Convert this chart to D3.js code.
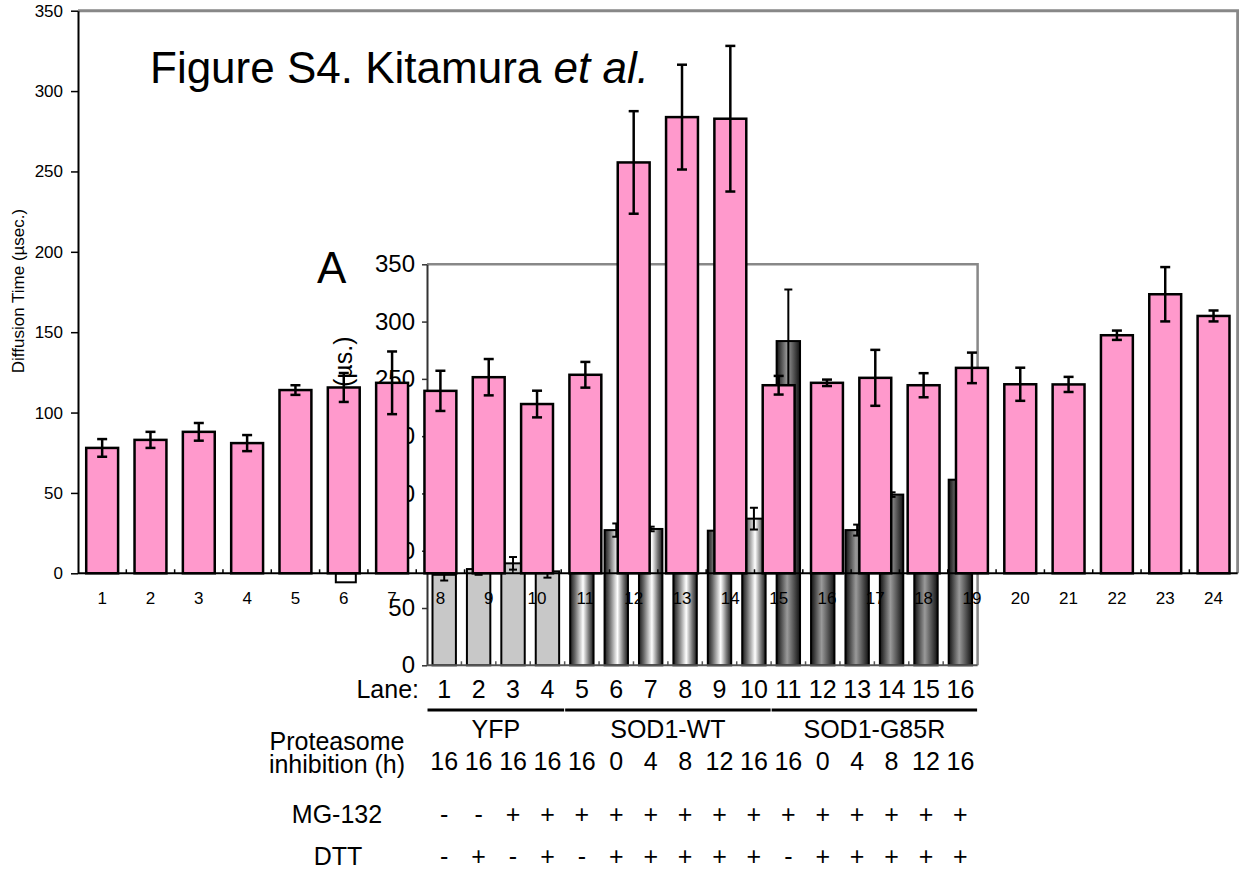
<!DOCTYPE html>
<html>
<head>
<meta charset="utf-8">
<script src="https://cdn.jsdelivr.net/npm/d3@7"></script>
<style>
  body { margin: 0; background: #fff; }
  svg { display: block; font-family: "Liberation Sans", Arial, sans-serif; }
</style>
</head>
<body>
<svg id="chart" width="1239" height="870"></svg>
<script>
// pink chart (front), 24 lanes
var pinkLanes = d3.range(1, 25).map(String);
var pinkMean = [78, 83, 88, 81, 114, 115.6, 118.5, 113.5, 122, 105.3, 123.5, 255.6,
                283.8, 282.8, 117, 118.5, 121.6, 117, 127.8, 117.6, 117.5, 148.1, 173.6, 160.1];
var pinkErr  = [5.5, 5, 5.5, 5, 3, 9, 19.5, 12.5, 11.3, 8.3, 8, 31.9,
                32.6, 45.3, 5.8, 2, 17.4, 7.5, 9.5, 10.3, 4.7, 2.9, 16.9, 3.4];
var yTicks = [0, 50, 100, 150, 200, 250, 300, 350];

// inset chart "A" (behind), 16 lanes
var insetLanes = d3.range(1, 17).map(String);
var insetMean = [79, 84, 89, 82, 123, 118, 119, 120, 117.5, 128, 283, 119, 118, 149, 156, 162];
var insetErr  = [5, 5, 5.5, 5.5, 6, 5.8, 2, 5, 4, 9.5, 45, 4, 4.8, 2, 5, 5];
var insetGroup = ["YFP", "YFP", "YFP", "YFP", "WT", "WT", "WT", "WT", "WT", "WT",
                  "G85R", "G85R", "G85R", "G85R", "G85R", "G85R"];
var groups = [
  { name: "YFP", label: "YFP", from: "1", to: "4" },
  { name: "WT", label: "SOD1-WT", from: "5", to: "10" },
  { name: "G85R", label: "SOD1-G85R", from: "11", to: "16" }
];
var hours = ["16", "16", "16", "16", "16", "0", "4", "8", "12", "16", "16", "0", "4", "8", "12", "16"];
var mg132 = ["-", "-", "+", "+", "+", "+", "+", "+", "+", "+", "+", "+", "+", "+", "+", "+"];
var dtt   = ["-", "+", "-", "+", "-", "+", "+", "+", "+", "+", "-", "+", "+", "+", "+", "+"];

var svg = d3.select("#chart");
var defs = svg.append("defs");

var gWT = defs.append("linearGradient").attr("id", "gradWT");
[[0, "#1a1a1a"], [0.2, "#666"], [0.55, "#ffffff"], [0.8, "#777"], [1, "#1a1a1a"]].forEach(s => {
  gWT.append("stop").attr("offset", s[0]).attr("stop-color", s[1]);
});
var gMut = defs.append("linearGradient").attr("id", "gradMut");
[[0, "#111"], [0.45, "#9a9a9a"], [1, "#111"]].forEach(s => {
  gMut.append("stop").attr("offset", s[0]).attr("stop-color", s[1]);
});
var fillOf = { YFP: "#c8c8c8", WT: "url(#gradWT)", G85R: "url(#gradMut)" };

// ---------- inset chart ----------
var xI = d3.scaleBand().domain(insetLanes).range([427, 977.6]).paddingInner(0.32).paddingOuter(0.16);
var yI = d3.scaleLinear().domain([0, 350]).range([665.3, 264.3]);

var inset = svg.append("g");
// plot border (top, right)
inset.append("path")
  .attr("d", "M" + xI.range()[0] + "," + yI(350) + "H" + xI.range()[1] + "V" + yI(0))
  .attr("fill", "none").attr("stroke", "#888").attr("stroke-width", 2.5);

inset.selectAll("rect.ib")
  .data(insetLanes)
  .enter().append("rect")
  .attr("class", "ib")
  .attr("x", d => xI(d))
  .attr("width", xI.bandwidth())
  .attr("y", (d, i) => yI(insetMean[i]))
  .attr("height", (d, i) => yI(0) - yI(insetMean[i]))
  .attr("fill", (d, i) => fillOf[insetGroup[i]])
  .attr("stroke", "#000").attr("stroke-width", 2);

var ie = inset.selectAll("g.ie").data(insetLanes).enter().append("g")
  .attr("transform", d => "translate(" + (xI(d) + xI.bandwidth() / 2) + ",0)")
  .attr("stroke", "#000").attr("stroke-width", 2);
ie.append("line").attr("y1", (d, i) => yI(insetMean[i] + insetErr[i])).attr("y2", (d, i) => yI(insetMean[i] - insetErr[i]));
ie.append("line").attr("x1", -4).attr("x2", 4).attr("y1", (d, i) => yI(insetMean[i] + insetErr[i])).attr("y2", (d, i) => yI(insetMean[i] + insetErr[i]));
ie.append("line").attr("x1", -4).attr("x2", 4).attr("y1", (d, i) => yI(insetMean[i] - insetErr[i])).attr("y2", (d, i) => yI(insetMean[i] - insetErr[i]));

var iy = inset.append("g").attr("transform", "translate(427,0)")
  .call(d3.axisLeft(yI).tickValues(yTicks).tickSize(5).tickSizeOuter(0).tickPadding(7));
iy.select(".domain").attr("stroke", "#333").attr("stroke-width", 2);
iy.selectAll(".tick line").attr("stroke", "#333").attr("stroke-width", 1.5);
iy.selectAll(".tick text").attr("font-size", 24).attr("fill", "#000")
  .attr("font-family", "Liberation Sans, Arial, sans-serif");

// inset x axis with ticks between lanes
inset.append("line").attr("x1", xI.range()[0]).attr("x2", xI.range()[1])
  .attr("y1", yI(0)).attr("y2", yI(0)).attr("stroke", "#555").attr("stroke-width", 2);
inset.selectAll("line.ixt").data(d3.range(1, 16)).enter().append("line")
  .attr("x1", k => xI.range()[0] + k * xI.step()).attr("x2", k => xI.range()[0] + k * xI.step())
  .attr("y1", yI(0)).attr("y2", yI(0) - 4).attr("stroke", "#555").attr("stroke-width", 1.5);

inset.append("text").attr("transform", "translate(352,387) rotate(-90)")
  .attr("font-size", 25).text("(µs.)");

// table under the inset
var tcx = d => xI(d) + xI.bandwidth() / 2;
var tbl = svg.append("g").attr("font-size", 25).attr("text-anchor", "middle");
tbl.append("text").attr("x", 419).attr("y", 698).attr("text-anchor", "end").text("Lane:");
tbl.selectAll("text.ln").data(insetLanes).enter().append("text")
  .attr("x", tcx).attr("y", 698).text(d => d);
tbl.selectAll("line.grp").data(groups).enter().append("line")
  .attr("x1", g => xI(g.from) - 5).attr("x2", g => xI(g.to) + xI.bandwidth() + 5)
  .attr("y1", 710).attr("y2", 710).attr("stroke", "#000").attr("stroke-width", 3);
tbl.selectAll("text.grp").data(groups).enter().append("text")
  .attr("x", g => (xI(g.from) + xI(g.to) + xI.bandwidth()) / 2).attr("y", 738).text(g => g.label);
tbl.append("text").attr("x", 337).attr("y", 750).text("Proteasome");
tbl.append("text").attr("x", 337).attr("y", 773).text("inhibition (h)");
tbl.selectAll("text.hr").data(insetLanes).enter().append("text")
  .attr("x", tcx).attr("y", 770).text((d, i) => hours[i]);
tbl.append("text").attr("x", 337).attr("y", 823).text("MG-132");
tbl.selectAll("text.mg").data(insetLanes).enter().append("text")
  .attr("x", tcx).attr("y", 823).text((d, i) => mg132[i]);
tbl.append("text").attr("x", 338).attr("y", 865).text("DTT");
tbl.selectAll("text.dt").data(insetLanes).enter().append("text")
  .attr("x", tcx).attr("y", 865).text((d, i) => dtt[i]);

svg.append("text").attr("x", 317).attr("y", 283).attr("font-size", 44).text("A");

// title
var title = svg.append("text").attr("x", 150).attr("y", 83).attr("font-size", 44);
title.append("tspan").text("Figure S4. Kitamura ");
title.append("tspan").attr("font-style", "italic").text("et al.");

// ---------- pink chart ----------
var xP = d3.scaleBand().domain(pinkLanes).range([78, 1237.7]).paddingInner(0.34).paddingOuter(0.17);
var yP = d3.scaleLinear().domain([0, 350]).range([573.3, 10.7]);

var pink = svg.append("g");
pink.append("path")
  .attr("d", "M" + xP.range()[0] + "," + yP(350) + "H" + xP.range()[1] + "V" + yP(0))
  .attr("fill", "none").attr("stroke", "#888").attr("stroke-width", 3);

// small white box under lane 6
pink.append("rect").attr("x", xP("6") + 8).attr("y", yP(0)).attr("width", 20).attr("height", 9)
  .attr("fill", "#fff").attr("stroke", "#000").attr("stroke-width", 2);

pink.selectAll("rect.pb")
  .data(pinkLanes)
  .enter().append("rect")
  .attr("class", "pb")
  .attr("x", d => xP(d))
  .attr("width", xP.bandwidth())
  .attr("y", (d, i) => yP(pinkMean[i]))
  .attr("height", (d, i) => yP(0) - yP(pinkMean[i]))
  .attr("fill", "#ff99cc")
  .attr("stroke", "#000").attr("stroke-width", 2.5);

var pe = pink.selectAll("g.pe").data(pinkLanes).enter().append("g")
  .attr("transform", d => "translate(" + (xP(d) + xP.bandwidth() / 2) + ",0)")
  .attr("stroke", "#000").attr("stroke-width", 2.5);
pe.append("line").attr("y1", (d, i) => yP(pinkMean[i] + pinkErr[i])).attr("y2", (d, i) => yP(pinkMean[i] - pinkErr[i]));
pe.append("line").attr("x1", -5).attr("x2", 5).attr("y1", (d, i) => yP(pinkMean[i] + pinkErr[i])).attr("y2", (d, i) => yP(pinkMean[i] + pinkErr[i]));
pe.append("line").attr("x1", -5).attr("x2", 5).attr("y1", (d, i) => yP(pinkMean[i] - pinkErr[i])).attr("y2", (d, i) => yP(pinkMean[i] - pinkErr[i]));

var py = pink.append("g").attr("transform", "translate(78,0)")
  .call(d3.axisLeft(yP).tickValues(yTicks).tickSize(7).tickSizeOuter(0).tickPadding(8));
py.select(".domain").attr("stroke", "#000").attr("stroke-width", 2);
py.selectAll(".tick line").attr("stroke", "#000").attr("stroke-width", 1.5);
py.selectAll(".tick text").attr("font-size", 17).attr("fill", "#000")
  .attr("font-family", "Liberation Sans, Arial, sans-serif");

pink.append("line").attr("x1", xP.range()[0]).attr("x2", xP.range()[1])
  .attr("y1", yP(0)).attr("y2", yP(0)).attr("stroke", "#000").attr("stroke-width", 2);
pink.selectAll("line.pxt").data(d3.range(1, 24)).enter().append("line")
  .attr("x1", k => xP.range()[0] + k * xP.step()).attr("x2", k => xP.range()[0] + k * xP.step())
  .attr("y1", yP(0)).attr("y2", yP(0) - 4).attr("stroke", "#000").attr("stroke-width", 1.5);
pink.selectAll("text.pl").data(pinkLanes).enter().append("text")
  .attr("x", d => xP(d) + xP.bandwidth() / 2).attr("y", 604)
  .attr("text-anchor", "middle").attr("font-size", 17).text(d => d);

pink.append("text").attr("transform", "translate(24,291) rotate(-90)")
  .attr("text-anchor", "middle").attr("font-size", 17).text("Diffusion Time (µsec.)");
</script>
</body>
</html>
